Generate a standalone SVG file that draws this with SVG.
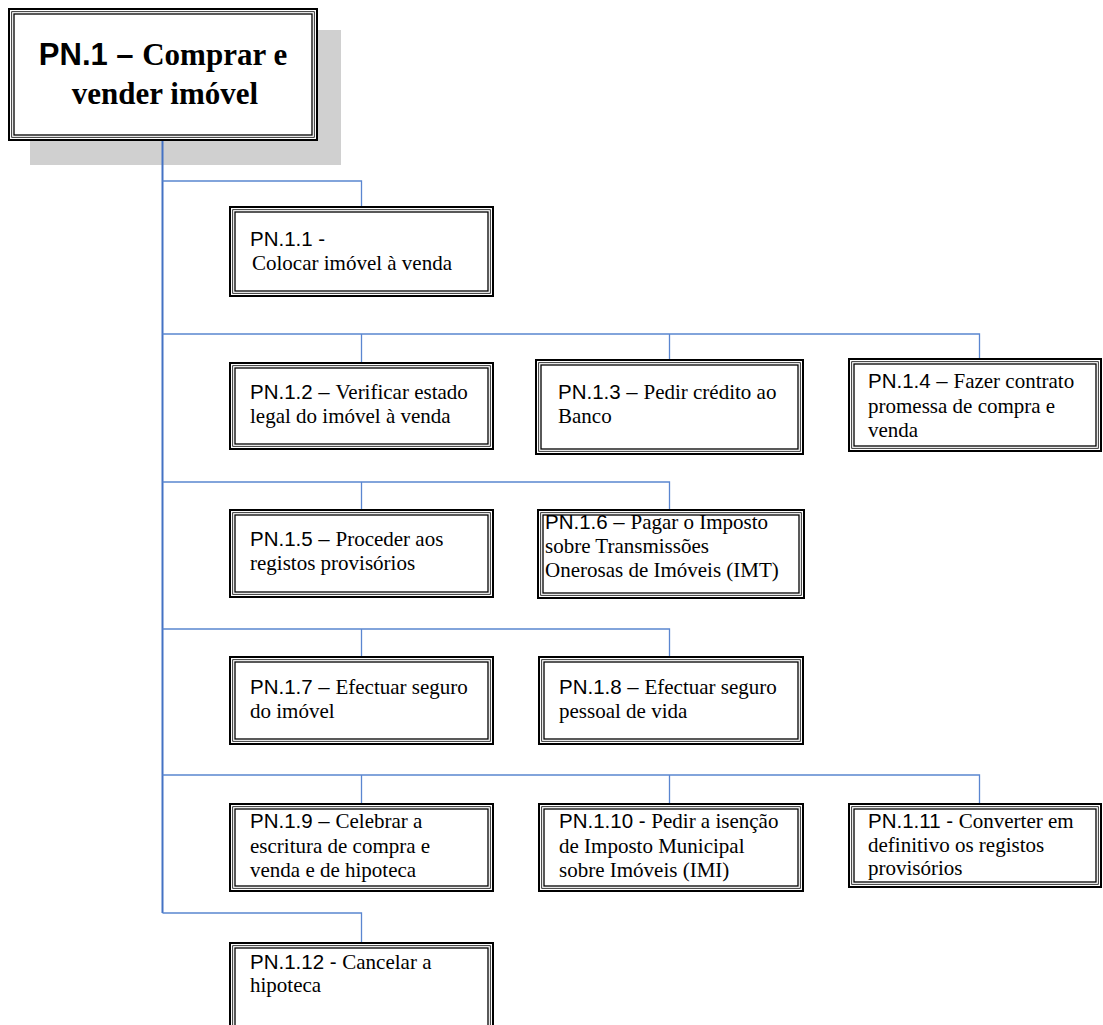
<svg xmlns="http://www.w3.org/2000/svg" width="1103" height="1025" viewBox="0 0 1103 1025">
  <style>
    .o { fill: #fff; stroke: #000; stroke-width: 2; }
    .m { fill: none; stroke: #000; stroke-width: 0.8; }
    .i { fill: none; stroke: #000; stroke-width: 1.3; }
    .a { font-family: "Liberation Sans", Arial, sans-serif; font-size: 20.5px; fill: #000; }
    .t { font-family: "Liberation Serif", "Times New Roman", serif; font-size: 21px; fill: #000; }
    .ab { font-family: "Liberation Sans", Arial, sans-serif; font-size: 31px; font-weight: bold; }
    .tb { font-family: "Liberation Serif", "Times New Roman", serif; font-size: 31px; font-weight: bold; }
    .trunk { stroke: #4472c4; stroke-width: 2; fill: none; }
    .br { stroke: #5a86d0; stroke-width: 1.3; fill: none; }
  </style>
  <rect width="1103" height="1025" fill="#fff"/>

  <!-- root process -->
  <g id="pn1">
    <rect x="30" y="30" width="311" height="135" fill="#d0d0d0"/>
    <rect class="o" x="9" y="9" width="308" height="131"/>
    <rect class="m" x="11.7" y="11.7" width="302.6" height="125.6"/>
    <rect class="i" x="14" y="14" width="298" height="121"/>
    <text x="163" y="65" text-anchor="middle"><tspan class="ab">PN.1 – </tspan><tspan class="tb">Comprar e</tspan></text>
    <text x="165" y="104" text-anchor="middle" class="tb">vender imóvel</text>
  </g>

  <!-- tree connectors -->
  <g id="connectors">
    <path class="trunk" d="M162.5 141 V913"/>
    <path class="br" d="M162.5 181 H361.5 V206"/>
    <path class="br" d="M162.5 334 H979.5 V358 M361.5 334 V362 M669.5 334 V359"/>
    <path class="br" d="M162.5 482 H669.5 V509 M361.5 482 V509"/>
    <path class="br" d="M162.5 629 H669.5 V656 M361.5 629 V656"/>
    <path class="br" d="M162.5 775 H979.5 V803 M361.5 775 V803 M669.5 775 V803"/>
    <path class="br" d="M162.5 913 H361.5 V942"/>
  </g>

  <g id="pn1-1">
    <rect class="o" x="230" y="207" width="263" height="89"/>
    <rect class="m" x="232.7" y="209.7" width="257.6" height="83.6"/>
    <rect class="i" x="235" y="212" width="253" height="79"/>
    <text x="250" y="246" class="a">PN.1.1 -</text>
    <text x="252" y="270" class="t">Colocar imóvel à venda</text>
  </g>

  <g id="pn1-2">
    <rect class="o" x="230" y="363" width="263" height="86"/>
    <rect class="m" x="232.7" y="365.7" width="257.6" height="80.6"/>
    <rect class="i" x="235" y="368" width="253" height="76"/>
    <text x="250" y="399"><tspan class="a">PN.1.2 – </tspan><tspan class="t">Verificar estado</tspan></text>
    <text x="250" y="423" class="t">legal do imóvel à venda</text>
  </g>

  <g id="pn1-3">
    <rect class="o" x="536" y="360" width="267" height="94"/>
    <rect class="m" x="538.7" y="362.7" width="261.6" height="88.6"/>
    <rect class="i" x="541" y="365" width="257" height="84"/>
    <text x="558" y="399"><tspan class="a">PN.1.3 – </tspan><tspan class="t">Pedir crédito ao</tspan></text>
    <text x="558" y="423" class="t">Banco</text>
  </g>

  <g id="pn1-4">
    <rect class="o" x="849" y="359" width="252" height="92"/>
    <rect class="m" x="851.7" y="361.7" width="246.6" height="86.6"/>
    <rect class="i" x="854" y="364" width="242" height="82"/>
    <text x="868" y="388"><tspan class="a">PN.1.4 – </tspan><tspan class="t">Fazer contrato</tspan></text>
    <text x="868" y="413" class="t">promessa de compra e</text>
    <text x="868" y="437" class="t">venda</text>
  </g>

  <g id="pn1-5">
    <rect class="o" x="230" y="510" width="263" height="87"/>
    <rect class="m" x="232.7" y="512.7" width="257.6" height="81.6"/>
    <rect class="i" x="235" y="515" width="253" height="77"/>
    <text x="250" y="546"><tspan class="a">PN.1.5 – </tspan><tspan class="t">Proceder aos</tspan></text>
    <text x="250" y="570" class="t">registos provisórios</text>
  </g>

  <g id="pn1-6">
    <rect class="o" x="538" y="510" width="266" height="88"/>
    <rect class="m" x="540.7" y="512.7" width="260.6" height="82.6"/>
    <rect class="i" x="543" y="515" width="256" height="78"/>
    <text x="545" y="529"><tspan class="a">PN.1.6 – </tspan><tspan class="t">Pagar o Imposto</tspan></text>
    <text x="545" y="553" class="t">sobre Transmissões</text>
    <text x="545" y="577" class="t">Onerosas de Imóveis (IMT)</text>
  </g>

  <g id="pn1-7">
    <rect class="o" x="230" y="657" width="263" height="87"/>
    <rect class="m" x="232.7" y="659.7" width="257.6" height="81.6"/>
    <rect class="i" x="235" y="662" width="253" height="77"/>
    <text x="250" y="694"><tspan class="a">PN.1.7 – </tspan><tspan class="t">Efectuar seguro</tspan></text>
    <text x="250" y="718" class="t">do imóvel</text>
  </g>

  <g id="pn1-8">
    <rect class="o" x="539" y="657" width="264" height="87"/>
    <rect class="m" x="541.7" y="659.7" width="258.6" height="81.6"/>
    <rect class="i" x="544" y="662" width="254" height="77"/>
    <text x="559" y="694"><tspan class="a">PN.1.8 – </tspan><tspan class="t">Efectuar seguro</tspan></text>
    <text x="559" y="718" class="t">pessoal de vida</text>
  </g>

  <g id="pn1-9">
    <rect class="o" x="230" y="804" width="263" height="87"/>
    <rect class="m" x="232.7" y="806.7" width="257.6" height="81.6"/>
    <rect class="i" x="235" y="809" width="253" height="77"/>
    <text x="250" y="828"><tspan class="a">PN.1.9 – </tspan><tspan class="t">Celebrar a</tspan></text>
    <text x="250" y="853" class="t">escritura de compra e</text>
    <text x="250" y="877" class="t">venda e de hipoteca</text>
  </g>

  <g id="pn1-10">
    <rect class="o" x="539" y="804" width="264" height="87"/>
    <rect class="m" x="541.7" y="806.7" width="258.6" height="81.6"/>
    <rect class="i" x="544" y="809" width="254" height="77"/>
    <text x="559" y="828"><tspan class="a">PN.1.10 - </tspan><tspan class="t">Pedir a isenção</tspan></text>
    <text x="559" y="853" class="t">de Imposto Municipal</text>
    <text x="559" y="877" class="t">sobre Imóveis (IMI)</text>
  </g>

  <g id="pn1-11">
    <rect class="o" x="849" y="804" width="252" height="83"/>
    <rect class="m" x="851.7" y="806.7" width="246.6" height="77.6"/>
    <rect class="i" x="854" y="809" width="242" height="73"/>
    <text x="868" y="828"><tspan class="a">PN.1.11 - </tspan><tspan class="t">Converter em</tspan></text>
    <text x="868" y="852" class="t">definitivo os registos</text>
    <text x="868" y="875" class="t">provisórios</text>
  </g>

  <g id="pn1-12">
    <rect class="o" x="230" y="943" width="263" height="100"/>
    <rect class="m" x="232.7" y="945.7" width="257.6" height="94.6"/>
    <rect class="i" x="235" y="948" width="253" height="90"/>
    <text x="250" y="969"><tspan class="a">PN.1.12 - </tspan><tspan class="t">Cancelar a</tspan></text>
    <text x="250" y="992" class="t">hipoteca</text>
  </g>
</svg>
